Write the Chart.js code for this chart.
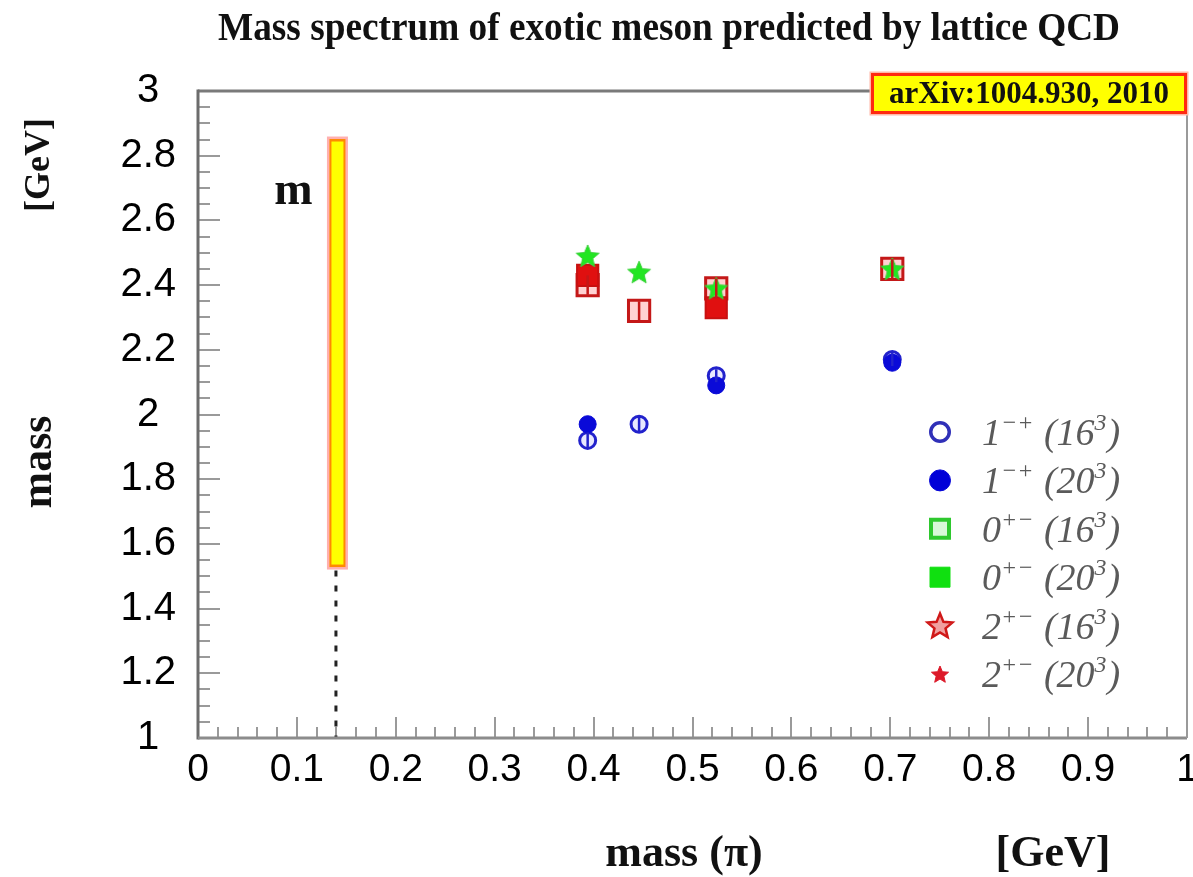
<!DOCTYPE html>
<html>
<head>
<meta charset="utf-8">
<script src="https://cdn.jsdelivr.net/npm/chart.js@4/dist/chart.umd.min.js"></script>
<style>
  html, body { margin: 0; padding: 0; background: #ffffff; }
  #wrap { width: 1193px; height: 877px; }
</style>
</head>
<body>
<div id="wrap"><canvas id="c" width="1193" height="877"></canvas></div>
<script>
// Pion masses (GeV) of the lattice ensembles
const pionMass = [0.394, 0.446, 0.524, 0.702];

// 1-+ exotic meson masses (GeV)
const oneMP16 = [1.92, 1.97, 2.12, 2.17];
const oneMP16Err = [0.025, 0.025, 0.02, 0.02];
const oneMP20Pion = [0.394, 0.524, 0.702];
const oneMP20 = [1.97, 2.09, 2.16];

// 0+- exotic meson masses (GeV)
const zeroPM16 = [2.40, 2.32, 2.39, 2.45];
const zeroPM16Err = [0.03, 0.03, 0.03, 0.03];
const zeroPM20Pion = [0.394, 0.524];
const zeroPM20 = [2.43, 2.33];

// 2+- exotic meson masses (GeV)
const twoPM20 = [2.49, 2.44, 2.39, 2.45];

// Band at the physical pion mass
const physPionMass = 0.141;
const physBand = [1.53, 2.85];

// Axis tick labels
const xTickLabels = ['0', '0.1', '0.2', '0.3', '0.4', '0.5', '0.6', '0.7', '0.8', '0.9', '1'];
const yTickLabels = ['1', '1.2', '1.4', '1.6', '1.8', '2', '2.2', '2.4', '2.6', '2.8', '3'];

// Legend entries: label pieces as [text, superscript?]
const legendLabels = [
  [['1', 0], ['\u2212+', 1], [' (16', 0], ['3', 1], [')', 0]],
  [['1', 0], ['\u2212+', 1], [' (20', 0], ['3', 1], [')', 0]],
  [['0', 0], ['+\u2212', 1], [' (16', 0], ['3', 1], [')', 0]],
  [['0', 0], ['+\u2212', 1], [' (20', 0], ['3', 1], [')', 0]],
  [['2', 0], ['+\u2212', 1], [' (16', 0], ['3', 1], [')', 0]],
  [['2', 0], ['+\u2212', 1], [' (20', 0], ['3', 1], [')', 0]]
];

const chartTitle = 'Mass spectrum of exotic meson predicted by lattice QCD';

const SERIF = '"Liberation Serif", "Times New Roman", serif';
const SANS = '"Liberation Sans", Arial, sans-serif';

function starPath(g, cx, cy, r) {
  g.beginPath();
  for (let i = 0; i < 10; i++) {
    const rr = i % 2 ? r * 0.45 : r;
    const a = -Math.PI / 2 + i * Math.PI / 5;
    g.lineTo(cx + rr * Math.cos(a), cy + rr * Math.sin(a));
  }
  g.closePath();
}

function starImage(r, fill, stroke, lw) {
  const s = Math.ceil(2 * r + 2 * lw + 4);
  const c = document.createElement('canvas');
  c.width = s; c.height = s;
  const g = c.getContext('2d');
  starPath(g, s / 2, s / 2 + r * 0.08, r);
  g.fillStyle = fill; g.fill();
  if (lw) { g.lineWidth = lw; g.strokeStyle = stroke; g.lineJoin = 'round'; g.stroke(); }
  return c;
}

const pts = (xs, ys) => xs.map((x, i) => ({ x: x, y: ys[i] }));

const BLUE = '#0a0ad8';
const RED = '#e01010';
const GREEN = '#22e622';

const datasets = [
  {
    label: '2+- (20^3)',
    data: pts(pionMass, twoPM20),
    pointStyle: starImage(12, GREEN, '#3bd03b', 1)
  },
  {
    label: '0+- (20^3)',
    data: pts(zeroPM20Pion, zeroPM20),
    pointStyle: 'rect', pointRadius: 15,
    backgroundColor: RED, borderColor: '#c81010', pointBorderWidth: 2
  },
  {
    label: '0+- (16^3)',
    data: pts(pionMass, zeroPM16),
    errors: zeroPM16Err,
    pointStyle: 'rect', pointRadius: 15,
    backgroundColor: '#ffd2d2', borderColor: '#c41818', pointBorderWidth: 3
  },
  {
    label: '1-+ (20^3)',
    data: pts(oneMP20Pion, oneMP20),
    pointStyle: 'circle', pointRadius: 8.5,
    backgroundColor: BLUE, borderColor: BLUE, pointBorderWidth: 1
  },
  {
    label: '1-+ (16^3)',
    data: pts(pionMass, oneMP16),
    errors: oneMP16Err,
    pointStyle: 'circle', pointRadius: 8,
    backgroundColor: '#e8e8ff', borderColor: '#2222cc', pointBorderWidth: 3
  }
];

// Marker styles used in the key
const legendMarkers = [
  { shape: 'circle', r: 11, fill: '#ffffff', stroke: '#3030b8', lw: 3.5 },
  { shape: 'circle', r: 11, fill: '#0000d8', stroke: '#0000d8', lw: 1 },
  { shape: 'square', r: 11, fill: '#d8f8d8', stroke: '#2ec82e', lw: 4 },
  { shape: 'square', r: 10.5, fill: '#10e010', stroke: '#10e010', lw: 1 },
  { shape: 'star', r: 13, fill: '#f0a0a0', stroke: '#d01818', lw: 2.5 },
  { shape: 'star', r: 9, fill: '#dd1a2a', stroke: '#dd1a2a', lw: 1 }
];

const decor = {
  id: 'decor',
  beforeDraw(chart) {
    const g = chart.ctx;
    g.save();
    g.fillStyle = '#ffffff';
    g.fillRect(0, 0, chart.width, chart.height);

    // condensed bold title
    g.fillStyle = '#111111';
    g.font = 'bold 41px ' + SERIF;
    g.textAlign = 'left';
    g.textBaseline = 'alphabetic';
    const w = g.measureText(chartTitle).width;
    g.translate(218, 40);
    g.scale(902 / w, 1);
    g.fillText(chartTitle, 0, 0);
    g.restore();
  },
  beforeDatasetsDraw(chart) {
    const g = chart.ctx, a = chart.chartArea;
    const xs = chart.scales.x, ys = chart.scales.y;
    g.save();

    // inward tick marks
    g.strokeStyle = '#9a9a9a';
    g.lineWidth = 2;
    g.beginPath();
    for (let i = 0; i <= 50; i++) {
      const px = Math.round(xs.getPixelForValue(i * 0.02));
      const len = i % 5 === 0 ? 21 : 11;
      g.moveTo(px, a.bottom); g.lineTo(px, a.bottom - len);
    }
    for (let i = 0; i <= 40; i++) {
      const py = Math.round(ys.getPixelForValue(1 + i * 0.05));
      const len = i % 4 === 0 ? 22 : 12;
      g.moveTo(a.left, py); g.lineTo(a.left + len, py);
    }
    g.stroke();

    // dashed line down from the band at the physical pion mass
    const bx = xs.getPixelForValue(physPionMass);
    const bTop = ys.getPixelForValue(physBand[1]);
    const bBot = ys.getPixelForValue(physBand[0]);
    g.strokeStyle = '#222222';
    g.lineWidth = 3;
    g.setLineDash([6, 9]);
    g.beginPath();
    g.moveTo(bx - 1.5, bBot + 4); g.lineTo(bx - 1.5, a.bottom);
    g.stroke();
    g.setLineDash([]);

    // band
    g.fillStyle = '#ffb0b0';
    g.fillRect(bx - 10.5, bTop - 3, 21, bBot - bTop + 6);
    g.fillStyle = '#ff8a00';
    g.fillRect(bx - 8, bTop - 0.5, 16, bBot - bTop + 1);
    g.fillStyle = '#ffff00';
    g.fillRect(bx - 6, bTop + 2, 12, bBot - bTop - 4);

    // frame
    g.lineCap = 'butt';
    g.strokeStyle = '#7a7a7a';
    g.lineWidth = 3;
    g.beginPath();
    g.moveTo(a.left, a.top); g.lineTo(a.right, a.top);
    g.stroke();
    g.strokeStyle = '#6c6c6c';
    g.beginPath();
    g.moveTo(a.left, a.top - 1.5); g.lineTo(a.left, a.bottom + 1.5);
    g.stroke();
    g.strokeStyle = '#8c8c8c';
    g.beginPath();
    g.moveTo(a.left, a.bottom); g.lineTo(a.right, a.bottom);
    g.stroke();
    g.strokeStyle = '#9a9a9a';
    g.lineWidth = 2;
    g.beginPath();
    g.moveTo(a.right, a.top); g.lineTo(a.right, a.bottom);
    g.stroke();

    // "m" next to the band
    g.fillStyle = '#111111';
    g.font = 'bold 46px ' + SERIF;
    g.textAlign = 'right';
    g.textBaseline = 'alphabetic';
    g.fillText('m', bx - 25, 204);
    g.restore();
  },
  afterDatasetsDraw(chart) {
    const g = chart.ctx;
    const ys = chart.scales.y;
    g.save();
    // error bars on the 16^3 points
    chart.data.datasets.forEach((ds, di) => {
      if (!ds.errors) return;
      const meta = chart.getDatasetMeta(di);
      g.strokeStyle = ds.borderColor;
      g.lineWidth = 2.5;
      meta.data.forEach((el, i) => {
        const v = ds.data[i].y, e = ds.errors[i];
        g.beginPath();
        g.moveTo(el.x, ys.getPixelForValue(v + e));
        g.lineTo(el.x, ys.getPixelForValue(v - e));
        g.stroke();
      });
    });
    g.restore();
  },
  afterDraw(chart) {
    const g = chart.ctx;
    g.save();

    // key
    const mx = 940, tx = 982, y0 = 432, dy = 48.4;
    legendMarkers.forEach((m, i) => {
      const y = y0 + i * dy;
      g.lineWidth = m.lw;
      g.fillStyle = m.fill;
      g.strokeStyle = m.stroke;
      g.beginPath();
      if (m.shape === 'circle') {
        g.arc(mx, y, m.r - m.lw / 2, 0, Math.PI * 2);
      } else if (m.shape === 'square') {
        g.rect(mx - m.r + m.lw / 2, y - m.r + m.lw / 2, 2 * m.r - m.lw, 2 * m.r - m.lw);
      } else {
        starPath(g, mx, y + 1, m.r);
      }
      g.fill();
      g.stroke();

      let x = tx;
      g.fillStyle = '#5a5a5a';
      g.textBaseline = 'alphabetic';
      g.textAlign = 'left';
      legendLabels[i].forEach(([t, sup]) => {
        g.font = (sup ? 'italic 24px ' : 'italic 38px ') + SERIF;
        g.fillText(t, x, sup ? y - 2 : y + 13);
        x += g.measureText(t).width + (sup ? 1 : 0);
      });
    });

    // reference box
    const bx0 = 871, by0 = 73, bw = 316, bh = 41;
    g.fillStyle = '#ffb8a8';
    g.fillRect(bx0 - 1.5, by0 - 1.5, bw + 3, bh + 3);
    g.fillStyle = '#ff2a10';
    g.fillRect(bx0, by0, bw, bh);
    g.fillStyle = '#ffff00';
    g.fillRect(bx0 + 3, by0 + 3, bw - 6, bh - 6);
    g.fillStyle = '#111111';
    g.font = 'bold 31px ' + SERIF;
    g.textAlign = 'center';
    g.textBaseline = 'middle';
    g.fillText('arXiv:1004.930, 2010', bx0 + bw / 2, by0 + bh / 2 + 1);

    // axis titles
    g.font = 'bold 44px ' + SERIF;
    g.fillStyle = '#111111';
    g.textAlign = 'center';
    g.textBaseline = 'middle';
    g.fillText('mass (\u03c0)', 684, 855);
    g.fillText('[GeV]', 1053, 855);
    g.save();
    g.translate(40, 462);
    g.rotate(-Math.PI / 2);
    g.fillText('mass', 0, 0);
    g.restore();
    g.save();
    g.font = 'bold 36px ' + SERIF;
    g.translate(40, 165);
    g.rotate(-Math.PI / 2);
    g.fillText('[GeV]', 0, 0);
    g.restore();

    g.restore();
  }
};

new Chart(document.getElementById('c'), {
  type: 'scatter',
  data: { datasets: datasets },
  plugins: [decor],
  options: {
    responsive: false,
    animation: false,
    devicePixelRatio: 1,
    layout: { autoPadding: false, padding: { left: 0, right: 6, top: 91, bottom: 0 } },
    plugins: {
      legend: { display: false },
      tooltip: { enabled: false },
      title: { display: false }
    },
    scales: {
      x: {
        type: 'linear',
        min: 0, max: 1,
        grid: { display: false, drawTicks: false },
        border: { display: false },
        afterBuildTicks: (s) => { s.ticks = xTickLabels.map(t => ({ value: parseFloat(t) })); },
        afterFit: (s) => { s.height = 139; s.paddingLeft = 0; s.paddingRight = 0; },
        ticks: {
          autoSkip: false, maxRotation: 0, padding: 9,
          color: '#000000',
          font: { family: SANS, size: 39 },
          callback: (v, i) => xTickLabels[i]
        }
      },
      y: {
        type: 'linear',
        min: 1, max: 3,
        grid: { display: false, drawTicks: false },
        border: { display: false },
        afterBuildTicks: (s) => { s.ticks = yTickLabels.map(t => ({ value: parseFloat(t) })); },
        afterFit: (s) => { s.width = 198; s.paddingTop = 0; s.paddingBottom = 0; },
        ticks: {
          autoSkip: false, padding: 22, crossAlign: 'center',
          color: '#000000',
          font: { family: SANS, size: 40 },
          callback: (v, i) => yTickLabels[i]
        }
      }
    }
  }
});
</script>
</body>
</html>
